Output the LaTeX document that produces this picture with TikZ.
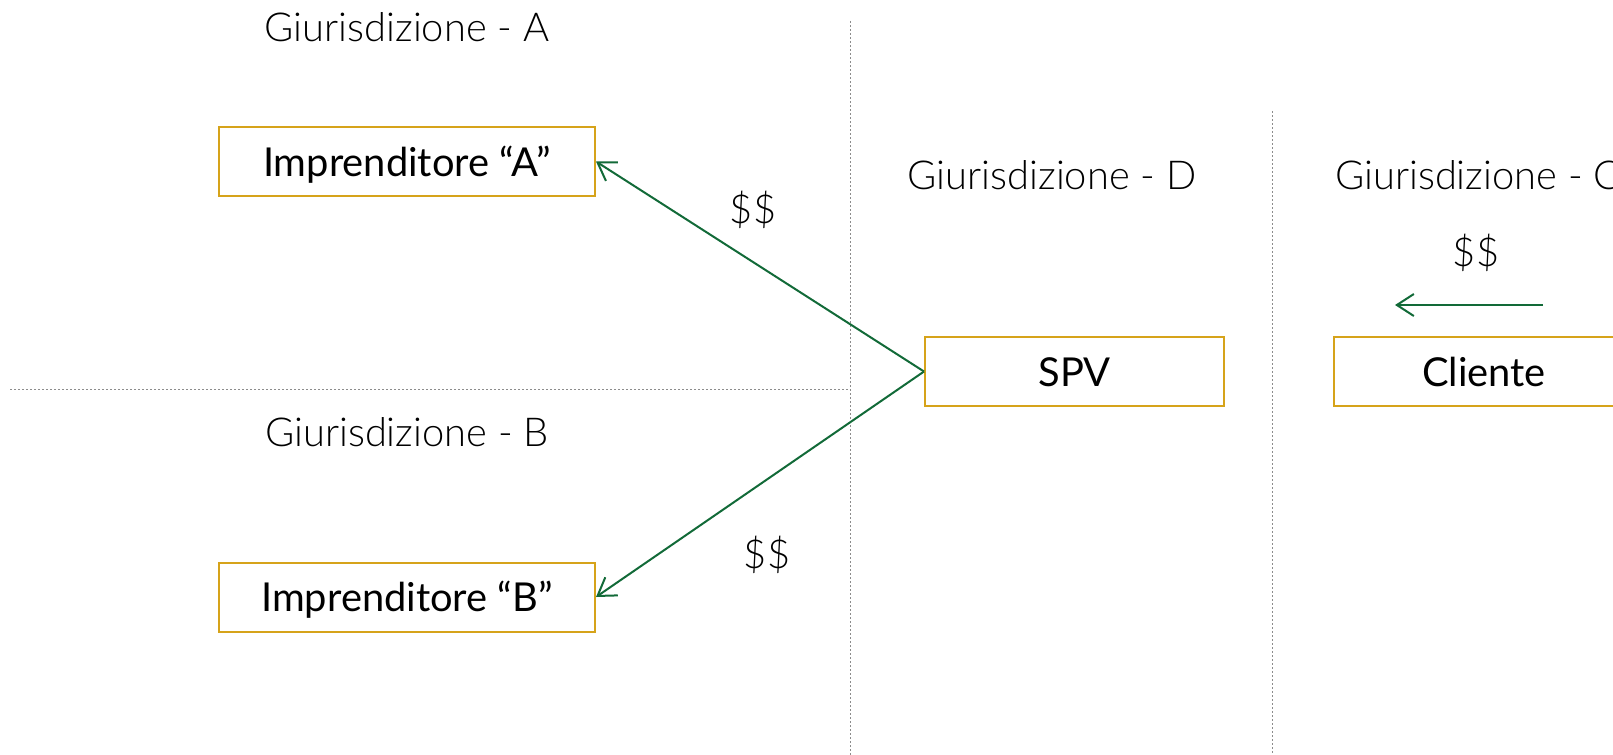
\documentclass[tikz,border=0pt]{standalone}
\usepackage{fontspec}
\setmainfont{Lato}
\newfontfamily\lightfont{Lato Light}
\usetikzlibrary{arrows.meta}
\definecolor{boxgold}{RGB}{214,163,26}
\definecolor{flowgreen}{RGB}{18,106,56}
\definecolor{rulegray}{RGB}{140,140,140}

\begin{document}
\begin{tikzpicture}[x=1bp,y=-1bp,
  entity/.style={draw=boxgold, line width=2bp, minimum height=69bp, inner sep=0pt,
    font=\fontsize{40}{40}\selectfont, text height=29bp, text depth=0pt},
  region/.style={font=\lightfont\fontsize{40}{40}\selectfont, anchor=base, inner sep=0pt},
  amount/.style={font=\lightfont\fontsize{40}{40}\selectfont, inner sep=0pt},
  flow/.style={draw=flowgreen, line width=2bp,
    -{Straight Barb[length=17bp,width=22bp,line width=2bp]}},
  border/.style={draw=rulegray, line width=1bp, dash pattern=on 2bp off 2bp},
]
\useasboundingbox (0,0) rectangle (1613,755);
\clip (0,0) rectangle (1613,755);

% jurisdiction borders
\draw[border] (850,21) -- (850,755);
\draw[border] (1272,111) -- (1272,755);
\draw[border] (10,389) -- (850,389);

% jurisdiction titles
\node[region] (jA) at (407,42) {Giurisdizione - A};
\node[region] (jB) at (407,446) {Giurisdizione - B};
\node[region] (jD) at (1052,189) {Giurisdizione - D};
\node[region, anchor=base west] (jC) at (1335,189) {Giurisdizione - C};

% parties
\node[entity, minimum width=376bp] (impA) at (407,161.5) {Imprenditore “A”};
\node[entity, minimum width=376bp] (impB) at (407,597) {Imprenditore “B”};
\node[entity, minimum width=299bp] (spv) at (1074.5,371.5) {SPV};
\node[entity, minimum width=300bp] (cliente) at (1484,371.5) {Cliente};

% payment labels
\node[amount] (mA) at (753,210) {\$\$};
\node[amount] (mB) at (767,555) {\$\$};
\node[amount] (mC) at (1476,253) {\$\$};

% payment flows
\draw[flow] (spv.west) -- (impA.east);
\draw[flow] (spv.west) -- (impB.east);
\coordinate (payS) at (1543,305);
\coordinate (payE) at (1395,305);
\draw[flow] (payS) -- (payE);
\end{tikzpicture}
\end{document}
